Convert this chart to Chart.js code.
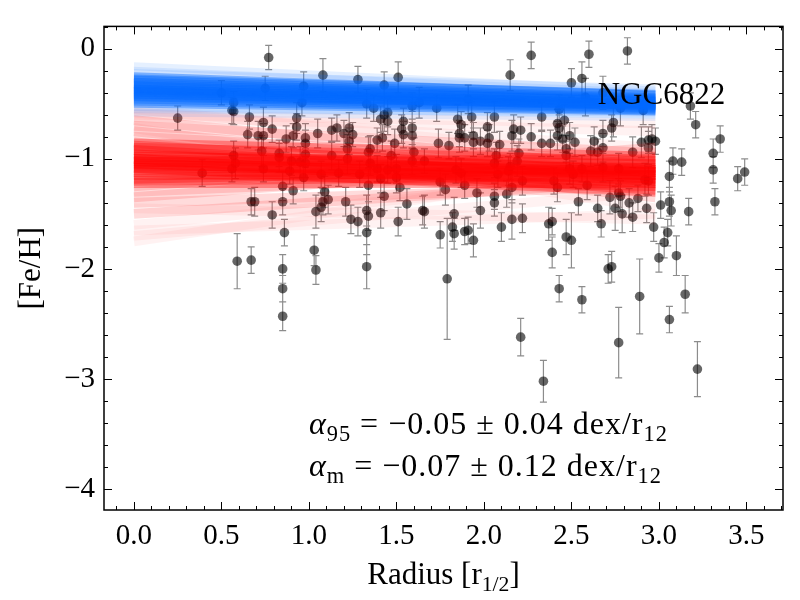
<!DOCTYPE html>
<html>
<head>
<meta charset="utf-8">
<script src="https://cdn.jsdelivr.net/npm/chart.js@4.4.1/dist/chart.umd.min.js"></script>
<style>
  html, body { margin: 0; padding: 0; background: #fff; }
  .probe { position: absolute; left: -1000px; top: 0; font-family: "Liberation Serif"; }
</style>
</head>
<body>
<span class="probe">0123 Radius α −</span>
<span class="probe" style="font-style:italic">α</span>
<canvas id="chart" width="800" height="600"></canvas>
<script>
// star radius (r_1/2), [Fe/H] and its error
const radius = [
  0.77,0.50,0.57,0.56,0.57,0.75,0.97,0.96,1.08,1.28,1.43,1.33,1.37,1.51,
  0.66,0.74,0.79,0.65,0.71,0.74,0.93,0.93,0.87,0.91,0.98,0.98,1.05,1.13,1.16,1.20,1.23,1.25,1.23,1.22,
  1.41,1.43,1.45,1.45,1.39,1.42,1.49,1.34,1.35,0.57,0.56,0.58,0.73,0.74,0.83,0.83,0.90,0.89,0.95,0.98,
  0.98,0.97,1.07,1.13,1.17,1.22,1.29,1.35,1.34,1.39,1.41,1.45,1.47,1.50,0.39,0.85,0.25,2.15,2.27,2.50,2.56,2.60,
  1.59,1.63,1.73,1.91,2.43,2.58,1.54,1.53,1.54,1.59,1.59,1.60,1.85,1.87,1.93,1.86,1.86,1.89,1.94,1.94,1.98,2.02,2.03,2.02,2.06,2.09,
  1.74,1.80,2.17,2.16,2.21,2.27,2.33,2.33,2.38,2.42,2.46,2.43,2.42,2.45,2.49,2.52,2.47,2.61,2.07,2.20,2.19,1.59,1.66,1.50,
  1.52,1.84,1.87,1.89,2.06,2.08,2.14,2.15,2.16,2.22,2.40,2.42,2.47,2.49,2.51,2.56,2.59,1.75,
  2.82,2.68,2.78,2.91,2.74,2.73,2.68,2.63,2.65,2.68,2.90,2.94,2.96,2.98,2.94,2.85,3.18,3.21,3.35,3.31,3.08,3.13,3.06,3.31,3.49,3.45,2.77,2.68,2.92,2.94,
  0.91,0.67,0.69,0.79,0.85,0.86,0.59,0.67,0.85,0.85,0.85,1.03,1.04,1.04,1.07,1.08,1.09,1.11,1.21,1.24,1.28,1.33,1.34,1.33,1.33,1.41,1.43,1.51,
  1.56,1.65,1.66,1.78,1.75,1.83,1.82,1.83,1.89,1.91,1.94,1.79,1.96,1.98,2.06,2.06,2.13,2.10,2.16,2.22,2.37,2.39,2.39,2.47,2.50,2.43,2.56,2.54,2.21,2.34,
  2.65,2.67,2.72,2.75,2.77,2.78,2.79,2.83,2.85,2.88,2.93,2.97,3.01,3.06,3.07,3.05,3.03,3.00,3.10,3.17,3.32,2.71,2.73,2.77,2.89,3.15,3.06,3.22
];
const feh = [
  -0.08,-0.40,-0.49,-0.56,-0.57,-0.36,-0.34,-0.49,-0.24,-0.28,-0.33,-0.50,-0.54,-0.26,
  -0.62,-0.67,-0.73,-0.78,-0.79,-0.79,-0.63,-0.71,-0.82,-0.79,-0.81,-0.86,-0.77,-0.74,-0.72,-0.77,-0.72,-0.78,-0.84,-0.91,
  -0.64,-0.60,-0.58,-0.66,-0.83,-0.81,-0.86,-0.94,-0.91,-0.97,-1.09,-1.04,-0.93,-1.09,-0.95,-0.99,-1.02,-1.11,-1.03,-0.96,
  -1.04,-1.17,-1.14,-0.97,-1.13,-1.00,-1.14,-1.04,-1.24,-1.09,-1.18,-1.10,-0.97,-1.17,-1.13,-1.25,-0.63,-0.24,-0.06,-0.31,-0.27,-0.05,
  -0.52,-0.49,-0.54,-0.46,-0.55,-0.44,-0.66,-0.73,-0.78,-0.72,-0.79,-0.94,-0.64,-0.69,-0.62,-0.77,-0.81,-0.81,-0.79,-0.85,-0.84,-0.71,-0.81,-0.86,-0.62,-0.87,
  -0.86,-0.88,-0.73,-0.79,-0.74,-0.80,-0.62,-0.86,-0.86,-0.68,-0.65,-0.72,-0.79,-0.82,-0.79,-0.85,-0.91,-0.93,-0.97,-0.95,-1.02,-1.02,-1.02,-1.09,
  -1.26,-1.10,-1.13,-1.24,-1.04,-1.14,-1.11,-1.07,-1.26,-1.20,-1.20,-1.26,-0.97,-1.09,-1.14,-1.09,-1.24,-1.21,
  -0.02,-0.40,-0.54,-0.56,-0.67,-0.72,-0.77,-0.84,-0.94,-0.90,-0.85,-0.83,-0.82,-0.84,-0.90,-0.94,-0.52,-0.69,-0.82,-0.95,-1.02,-1.03,-1.16,-1.10,-1.12,-1.18,-1.09,-1.08,-1.19,-1.20,
  -1.29,-1.39,-1.39,-1.51,-1.39,-1.67,-1.93,-1.92,-2.00,-2.18,-2.43,-1.83,-2.01,-1.48,-1.44,-1.39,-1.30,-1.37,-1.39,-1.55,-1.57,-1.47,-1.52,-1.67,-1.98,-1.49,-1.34,-1.57,
  -1.41,-1.47,-1.48,-1.28,-1.69,-1.50,-1.62,-1.68,-1.66,-1.65,-1.74,-2.09,-1.31,-1.47,-1.34,-1.40,-1.32,-1.62,-1.55,-1.54,-1.59,-1.57,-1.85,-1.71,-1.74,-2.18,-2.28,-1.39,-2.62,-3.02,
  -1.45,-1.59,-1.35,-1.45,-1.31,-1.34,-1.50,-1.40,-1.53,-1.36,-1.45,-1.62,-1.42,-1.39,-1.47,-1.67,-1.76,-1.90,-1.88,-1.48,-1.39,-2.00,-1.98,-2.67,-2.25,-2.23,-2.46,-2.91
];
const fehErr = [
  0.11,0.11,0.10,0.12,0.12,0.11,0.13,0.12,0.15,0.12,0.12,0.13,0.12,0.14,
  0.11,0.14,0.12,0.12,0.13,0.11,0.14,0.12,0.12,0.11,0.13,0.12,0.13,0.11,0.12,0.12,0.14,0.11,0.12,0.13,
  0.12,0.15,0.13,0.12,0.11,0.12,0.13,0.14,0.12,0.13,0.12,0.14,0.14,0.12,0.12,0.13,0.13,0.12,0.14,0.12,
  0.13,0.12,0.12,0.13,0.12,0.14,0.12,0.11,0.15,0.12,0.13,0.12,0.13,0.14,0.12,0.13,0.11,0.14,0.12,0.13,0.15,0.12,
  0.12,0.14,0.12,0.13,0.13,0.17,0.12,0.13,0.12,0.15,0.12,0.13,0.13,0.12,0.14,0.12,0.13,0.12,0.12,0.13,0.12,0.13,0.12,0.12,0.14,0.12,
  0.13,0.12,0.13,0.14,0.12,0.12,0.13,0.12,0.12,0.13,0.14,0.12,0.13,0.12,0.12,0.13,0.12,0.14,0.12,0.13,0.14,0.12,0.11,0.13,
  0.12,0.12,0.13,0.12,0.13,0.12,0.13,0.12,0.14,0.13,0.12,0.13,0.13,0.14,0.12,0.12,0.13,0.12,
  0.12,0.15,0.16,0.13,0.13,0.12,0.12,0.13,0.12,0.13,0.14,0.12,0.13,0.12,0.15,0.14,0.12,0.12,0.12,0.13,0.12,0.12,0.14,0.12,0.12,0.11,0.14,0.13,0.15,0.13,
  0.12,0.12,0.13,0.12,0.12,0.12,0.25,0.12,0.13,0.12,0.13,0.14,0.13,0.15,0.13,0.12,0.14,0.13,0.13,0.13,0.13,0.14,0.13,0.20,0.20,0.14,0.13,0.13,
  0.14,0.13,0.15,0.14,0.12,0.15,0.13,0.14,0.12,0.12,0.15,0.55,0.13,0.16,0.12,0.12,0.12,0.13,0.18,0.13,0.15,0.12,0.14,0.16,0.25,0.12,0.12,0.12,0.17,0.19,
  0.12,0.12,0.15,0.20,0.13,0.14,0.17,0.13,0.13,0.12,0.13,0.13,0.12,0.13,0.14,0.12,0.14,0.13,0.18,0.12,0.12,0.13,0.14,0.32,0.34,0.17,0.12,0.25
];

// fitted gradient lines: [Fe/H] at start and end of the fitted radius range
const fitRange = [0, 2.98];
const blueCoreStart  = [-0.25,-0.28,-0.30,-0.32,-0.34,-0.35,-0.36,-0.37,-0.38,-0.39,-0.40,-0.41,-0.42,-0.44,-0.46,-0.48,-0.50,-0.33,-0.43,-0.27];
const blueCoreEnd    = [-0.42,-0.44,-0.45,-0.46,-0.47,-0.48,-0.50,-0.49,-0.51,-0.50,-0.52,-0.53,-0.51,-0.54,-0.55,-0.56,-0.57,-0.48,-0.52,-0.41];
const blueOuterStart = [-0.16,-0.20,-0.55,-0.58,-0.22,-0.53];
const blueOuterEnd   = [-0.38,-0.40,-0.58,-0.62,-0.36,-0.60];
const redCoreStart  = [-1.00,-1.05,-0.95,-1.10,-1.02,-0.98,-1.08,-0.92,-1.15,-1.04,-0.90,-1.12,-1.06,-0.96,-1.18,-1.00,-0.88,-1.20,-1.03,-1.08,-0.86,-1.22];
const redCoreEnd    = [-1.12,-1.15,-1.10,-1.18,-1.20,-1.05,-1.10,-1.18,-1.12,-1.22,-1.02,-1.25,-1.08,-1.15,-1.08,-1.28,-1.12,-1.15,-1.00,-1.30,-0.98,-1.22];
const redMidStart   = [-0.80,-1.30,-0.75,-1.35,-0.70,-1.40,-0.85,-1.25,-0.65,-1.50];
const redMidEnd     = [-1.05,-1.10,-1.20,-1.00,-0.95,-1.25,-1.35,-0.90,-1.10,-1.20];
const redOuterStart = [-0.58,-1.60,-0.55,-1.70,-0.62,-1.75,-1.45,-0.72,-1.65,-0.60];
const redOuterEnd   = [-0.90,-1.15,-1.00,-1.30,-0.75,-1.05,-1.55,-1.45,-1.50,-0.68];

const galaxyName = "NGC6822";
const xTitle = ["Radius [r", "1/2", "]"];
const yTitle = "[Fe/H]";
const gradLines = [
  ["α", "95", " = \u22120.05 \u00b1 0.04 dex/r", "12"],
  ["α", "m", " = \u22120.07 \u00b1 0.12 dex/r", "12"]
];

const serif = "'Liberation Serif', 'Times New Roman', 'DejaVu Serif', serif";

function lineSets(starts, ends, color, width) {
  return starts.map((s, i) => ({
    type: "line",
    data: [{ x: fitRange[0], y: s }, { x: fitRange[1], y: ends[i] }],
    borderColor: color,
    borderWidth: width,
    pointRadius: 0,
    fill: false,
    tension: 0,
    order: 1
  }));
}

// text made of [main, sub, main, sub] pieces
function drawPieces(ctx, pieces, x, y, size, draw) {
  let cx = x;
  pieces.forEach((t, i) => {
    const sub = i % 2 === 1;
    const fs = sub ? size * 0.7 : size;
    const italic = (i === 0 && t === "α") ? "italic " : "";
    ctx.font = italic + fs + "px " + serif;
    if (draw) ctx.fillText(t, cx, y + (sub ? size * 0.22 : 0));
    cx += ctx.measureText(t).width;
  });
  return cx - x;
}

const errorBars = {
  id: "errorBars",
  beforeDatasetsDraw(chart) {
    const { ctx, scales: { x, y } } = chart;
    ctx.save();
    ctx.strokeStyle = "rgba(0,0,0,0.45)";
    ctx.lineWidth = 1.2;
    ctx.beginPath();
    radius.forEach((r, i) => {
      const px = x.getPixelForValue(r);
      const top = y.getPixelForValue(feh[i] + fehErr[i]);
      const bot = y.getPixelForValue(feh[i] - fehErr[i]);
      ctx.moveTo(px, top); ctx.lineTo(px, bot);
      ctx.moveTo(px - 3.5, top); ctx.lineTo(px + 3.5, top);
      ctx.moveTo(px - 3.5, bot); ctx.lineTo(px + 3.5, bot);
    });
    ctx.stroke();
    ctx.restore();
  }
};

const frameAndText = {
  id: "frameAndText",
  afterDraw(chart) {
    const { ctx, chartArea: a, scales: { x, y } } = chart;
    ctx.save();
    // inward ticks on all four sides
    ctx.strokeStyle = "#000";
    ctx.lineWidth = 1;
    ctx.beginPath();
    for (let k = -1; k <= 37; k++) {
      const px = Math.round(x.getPixelForValue(k / 10)) + 0.5;
      if (px < a.left || px > a.right) continue;
      const len = k % 5 === 0 ? 8 : 4;
      ctx.moveTo(px, a.bottom); ctx.lineTo(px, a.bottom - len);
      ctx.moveTo(px, a.top); ctx.lineTo(px, a.top + len);
    }
    for (let k = -21; k <= 1; k++) {
      const py = Math.round(y.getPixelForValue(k / 5)) + 0.5;
      if (py < a.top || py > a.bottom) continue;
      const len = k % 5 === 0 ? 8 : 4;
      ctx.moveTo(a.left, py); ctx.lineTo(a.left + len, py);
      ctx.moveTo(a.right, py); ctx.lineTo(a.right - len, py);
    }
    ctx.stroke();
    ctx.lineWidth = 1.5;
    ctx.strokeRect(a.left, a.top, a.right - a.left, a.bottom - a.top);

    ctx.fillStyle = "#000";
    ctx.textBaseline = "alphabetic";
    ctx.textAlign = "left";
    // galaxy label
    ctx.font = "31px " + serif;
    ctx.fillText(galaxyName, x.getPixelForValue(2.65), y.getPixelForValue(-0.5));
    // gradient values
    ctx.letterSpacing = "1px";
    drawPieces(ctx, gradLines[0], x.getPixelForValue(1.0), y.getPixelForValue(-3.5), 32, true);
    drawPieces(ctx, gradLines[1], x.getPixelForValue(1.0), y.getPixelForValue(-3.88), 32, true);
    ctx.letterSpacing = "0px";
    // x title
    const w = drawPieces(ctx, xTitle, 0, 0, 31, false);
    drawPieces(ctx, xTitle, (a.left + a.right) / 2 - w / 2, 584, 31, true);
    // y title
    ctx.translate(40, (a.top + a.bottom) / 2);
    ctx.rotate(-Math.PI / 2);
    ctx.textAlign = "center";
    ctx.font = "31px " + serif;
    ctx.fillText(yTitle, 0, 0);
    ctx.restore();
  }
};

const tickFont = { family: serif, size: 29 };

function makeChart() {
  new Chart(document.getElementById("chart"), {
    type: "scatter",
    data: {
      datasets: [
        ...lineSets(blueCoreStart, blueCoreEnd, "rgba(0,104,255,0.42)", 8),
        ...lineSets(blueOuterStart, blueOuterEnd, "rgba(0,104,255,0.10)", 8),
        ...lineSets(redCoreStart, redCoreEnd, "rgba(255,0,0,0.33)", 10),
        ...lineSets(redMidStart, redMidEnd, "rgba(255,0,0,0.14)", 10),
        ...lineSets(redOuterStart, redOuterEnd, "rgba(255,0,0,0.05)", 10),
        {
          type: "scatter",
          data: radius.map((r, i) => ({ x: r, y: feh[i] })),
          pointRadius: 4.8,
          pointBackgroundColor: "rgba(0,0,0,0.6)",
          pointBorderWidth: 0,
          order: 2
        }
      ]
    },
    options: {
      responsive: false,
      animation: false,
      devicePixelRatio: 1,
      layout: { padding: { top: 12, right: 17, left: 0, bottom: 0 } },
      plugins: { legend: { display: false }, tooltip: { enabled: false } },
      scales: {
        x: {
          type: "linear",
          min: -0.171,
          max: 3.709,
          afterFit(s) { s.height = 90; },
          grid: { display: false, drawTicks: false },
          border: { display: false },
          ticks: {
            stepSize: 0.5, includeBounds: false, padding: 9, color: "#000",
            font: tickFont, maxRotation: 0, autoSkip: false,
            callback: v => v.toFixed(1)
          }
        },
        y: {
          type: "linear",
          min: -4.19,
          max: 0.203,
          afterFit(s) { s.width = 104; },
          grid: { display: false, drawTicks: false },
          border: { display: false },
          ticks: {
            stepSize: 1, includeBounds: false, padding: 9, color: "#000",
            font: tickFont, autoSkip: false,
            callback: v => v < 0 ? "\u2212" + Math.abs(v) : String(v)
          }
        }
      }
    },
    plugins: [errorBars, frameAndText]
  });
}

Promise.all([
  document.fonts.load("30px 'Liberation Serif'"),
  document.fonts.load("italic 30px 'Liberation Serif'")
]).catch(() => {}).then(makeChart);
</script>
</body>
</html>
